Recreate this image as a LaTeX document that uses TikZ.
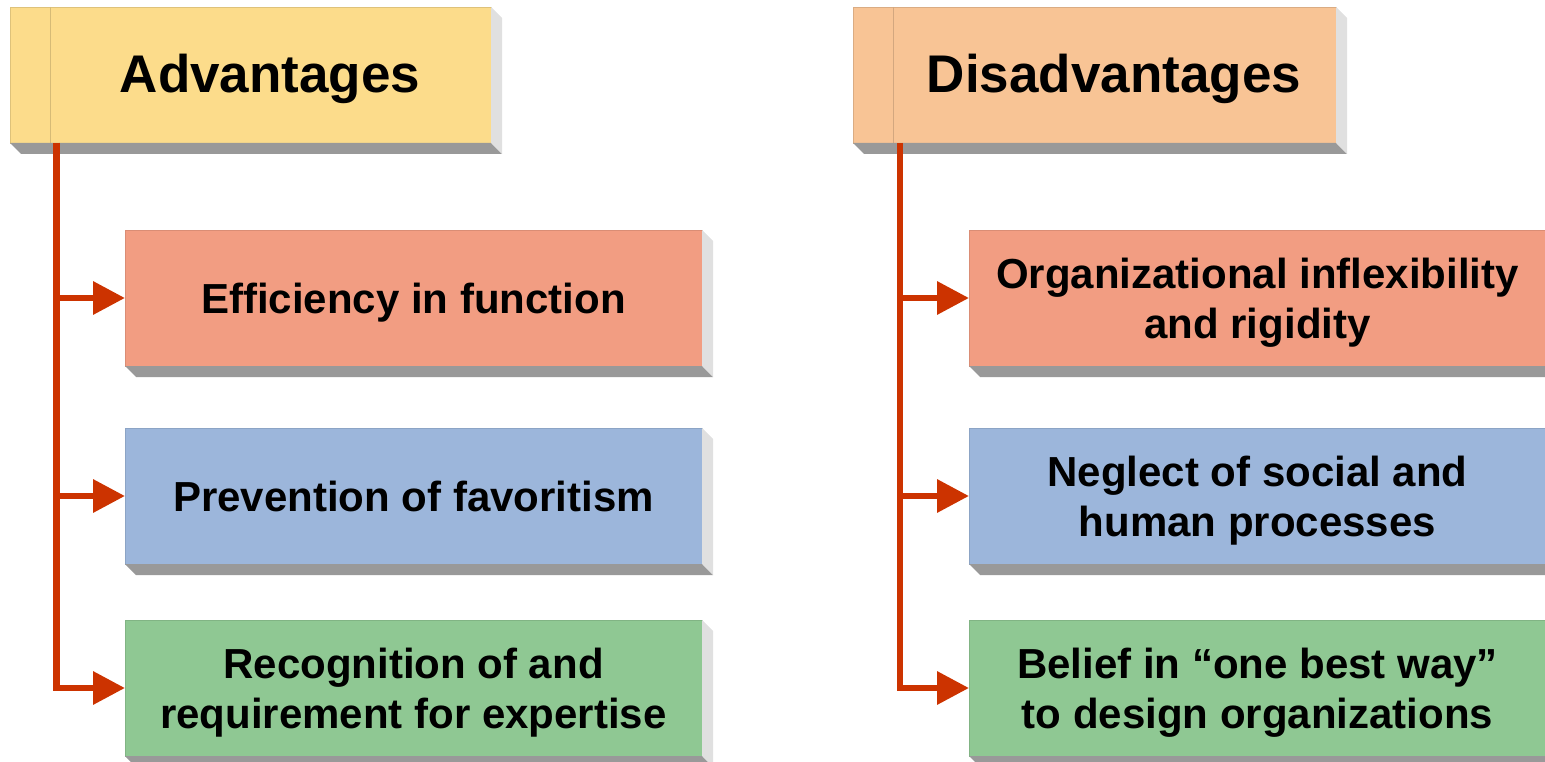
\documentclass[tikz,border=0pt]{standalone}
\usepackage{fontspec}
\setmainfont{Liberation Sans}
\usetikzlibrary{arrows.meta}
\definecolor{advc}{HTML}{FCDC8B}
\definecolor{disc}{HTML}{F8C495}
\definecolor{salc}{HTML}{F29D82}
\definecolor{bluc}{HTML}{9CB6DB}
\definecolor{grnc}{HTML}{8FC893}
\definecolor{redc}{HTML}{CC3300}
\definecolor{shdark}{HTML}{999999}
\definecolor{shlight}{HTML}{E0E0E0}
\begin{document}
\begin{tikzpicture}[x=1pt,y=-1pt,
  hdrbox/.style={draw=#1!88!black, line width=0.8pt, fill=#1, minimum width=481pt, minimum height=136pt, inner sep=0pt, outer sep=0pt, anchor=north west},
  hdrtext/.style={font=\bfseries\fontsize{53}{60}\selectfont, text height=38pt, text depth=0pt, inner sep=0pt},
  itembox/.style={draw=#1!90!black, line width=0.8pt, fill=#1, minimum width=577pt, minimum height=136pt, inner sep=0pt, outer sep=0pt, anchor=north west, align=center, font=\bfseries\fontsize{42}{50}\selectfont, text height=30pt, text depth=0pt},
  twoline/.style={text height=80pt, text depth=0pt},
  divider/.style={draw=#1!85!black, line width=0.8pt},
  conn/.style={draw=redc, line width=6.5pt, -{Triangle[length=32pt,width=32pt]}},
  trunk/.style={draw=redc, line width=6.5pt}
]
\useasboundingbox (0,0) rectangle (1545,762);

% headers
\node[hdrbox=advc] (advbox) at (10,7) {};
\node[hdrbox=disc, minimum width=483pt] (disbox) at (853,7) {};
\draw[divider=advc] ([xshift=40pt]advbox.north west) -- ([xshift=40pt]advbox.south west);
\draw[divider=disc] ([xshift=40pt]disbox.north west) -- ([xshift=40pt]disbox.south west);
\node[hdrtext] (advt) at (270,74) {Advantages};
\node[hdrtext] (dist) at (1114,74) {Disadvantages};

% items
\node[itembox=salc] (a1) at (125,230) {Efficiency in function};
\node[itembox=bluc] (a2) at (125,428) {Prevention of favoritism};
\node[itembox=grnc, twoline] (a3) at (125,620) {Recognition of and\\requirement for expertise};
\node[itembox=salc, twoline] (d1) at (969,230) {Organizational inflexibility\\and rigidity};
\node[itembox=bluc, twoline] (d2) at (969,428) {Neglect of social and\\human processes};
\node[itembox=grnc, twoline] (d3) at (969,620) {Belief in “one best way”\\to design organizations};

% 3D edges
\foreach \n in {advbox,disbox,a1,a2,a3,d1,d2,d3}{
  \fill[shdark] (\n.south west) -- (\n.south east) -- ([shift={(11,11)}]\n.south east) -- ([shift={(11,11)}]\n.south west) -- cycle;
  \fill[shlight] (\n.north east) -- ([shift={(11,11)}]\n.north east) -- ([shift={(11,11)}]\n.south east) -- (\n.south east) -- cycle;
}

% connectors
\coordinate (aj) at ([xshift=46.5pt]advbox.south west);
\coordinate (dj) at ([xshift=47pt]disbox.south west);
\draw[trunk] (aj) -- (aj |- a2.west);
\draw[conn] (aj) |- (a3.west);
\draw[conn] (aj |- a1.west) -- (a1.west);
\draw[conn] (aj |- a2.west) -- (a2.west);
\draw[conn] (dj) |- (d3.west);
\draw[conn] (dj |- d1.west) -- (d1.west);
\draw[conn] (dj |- d2.west) -- (d2.west);
\end{tikzpicture}
\end{document}
